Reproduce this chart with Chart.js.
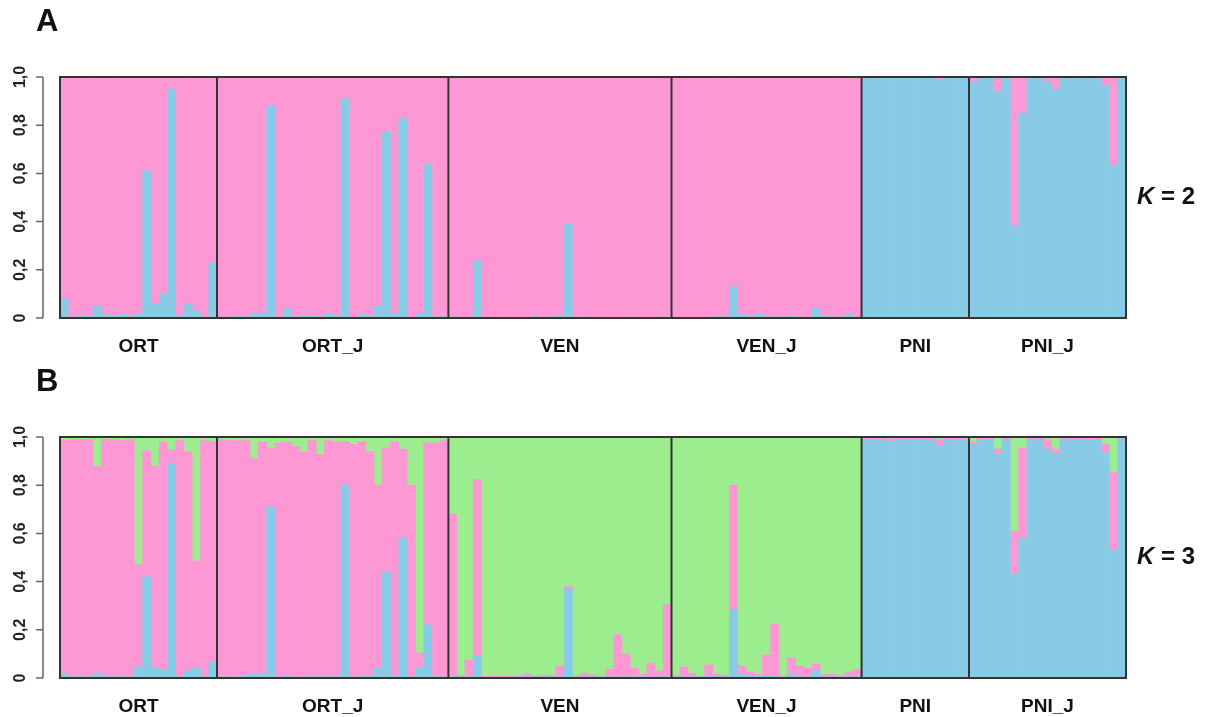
<!DOCTYPE html>
<html>
<head>
<meta charset="utf-8">
<script src="https://cdn.jsdelivr.net/npm/chart.js@4.4.0/dist/chart.umd.min.js"></script>
<style>
  body { margin: 0; background: #fff; }
  #wrap { position: relative; width: 1208px; height: 717px; }
  canvas { position: absolute; left: 0; }
</style>
</head>
<body>
<div id="wrap">
  <canvas id="chartA" width="1208" height="360" style="top:0"></canvas>
  <canvas id="chartB" width="1208" height="357" style="top:360px"></canvas>
</div>
<script>
// populations and how many individuals in each
const pops = ['ORT', 'ORT_J', 'VEN', 'VEN_J', 'PNI', 'PNI_J'];
const popSizes = [19, 28, 27, 23, 13, 19];
const yTicks = [0, 0.2, 0.4, 0.6, 0.8, 1.0];
const yTickLabels = ['0', '0,2', '0,4', '0,6', '0,8', '1,0'];

// K = 2, blue cluster membership (pink is the rest)
const k2Blue = [
  0.08,0,0.01,0.01,0.05,0.015,0.01,0.015,0.005,0.015,0.61,0.06,0.10,0.95,0.01,0.06,0.03,0,0.23, // ORT
  0,0.005,0.01,0.005,0.02,0.02,0.88,0,0.04,0.005,0.01,0.01,0,0.015,0.01,0.91,0,0.015,0.01,0.05,0.77,0.02,0.83,0,0.02,0.64,0.005,0.005, // ORT_J
  0.005,0,0,0.24,0.002,0,0,0,0,0.003,0.005,0.003,0.005,0.007,0.39,0.004,0.003,0,0,0,0.002,0.002,0.003,0,0,0.004,0.004, // VEN
  0,0,0,0,0,0.006,0.006,0.13,0.015,0.005,0.015,0.005,0.005,0.005,0.008,0.004,0,0.04,0.007,0.005,0.005,0.018,0, // VEN_J
  0.997,0.997,0.997,0.995,0.997,0.997,0.997,0.997,0.997,0.99,0.997,0.997,0.997, // PNI
  0.98,1,1,0.94,1,0.38,0.85,1,1,0.98,0.95,1,1,1,1,1,0.965,0.635,1 // PNI_J
];

// K = 3, blue and pink membership (green is the rest)
const k3Blue = [
  0.015,0.005,0.005,0.005,0.02,0.01,0.005,0.005,0.005,0.045,0.42,0.04,0.035,0.89,0.005,0.03,0.04,0.005,0.065,
  0.005,0.005,0.005,0.01,0.015,0.02,0.71,0.005,0.01,0.005,0.005,0.005,0.005,0.01,0.005,0.80,0.005,0.01,0.01,0.04,0.44,0.01,0.58,0.005,0.04,0.22,0.005,0.005,
  0.01,0.005,0.005,0.09,0.003,0.003,0.003,0.003,0.003,0.005,0.005,0.005,0.005,0.005,0.37,0.005,0.005,0.005,0.005,0.005,0.005,0.005,0.005,0.005,0.005,0.005,0.005,
  0.005,0.005,0.005,0.005,0.005,0.01,0.005,0.285,0.015,0.008,0.005,0.008,0.01,0.005,0.015,0.005,0.005,0.03,0.005,0.005,0.005,0.005,0.005,
  0.99,0.99,0.99,0.982,0.99,0.99,0.99,0.99,0.99,0.965,0.99,0.99,0.99,
  0.97,0.99,0.99,0.928,0.99,0.43,0.58,0.99,0.99,0.95,0.93,0.99,0.99,0.99,0.99,0.99,0.935,0.53,0.995
];
const k3Pink = [
  0.971,0.985,0.985,0.985,0.858,0.98,0.985,0.98,0.985,0.425,0.524,0.838,0.945,0.057,0.98,0.91,0.446,0.98,0.915,
  0.985,0.98,0.98,0.975,0.897,0.96,0.244,0.97,0.97,0.957,0.935,0.98,0.923,0.975,0.975,0.18,0.965,0.97,0.93,0.76,0.514,0.97,0.37,0.795,0.064,0.756,0.97,0.98,
  0.67,0.005,0.069,0.734,0.004,0.004,0.003,0.004,0.005,0.013,0.003,0.007,0.007,0.045,0.01,0.005,0.015,0.007,0.003,0.032,0.175,0.095,0.035,0.01,0.057,0.025,0.30,
  0.005,0.04,0.015,0.003,0.049,0.005,0.007,0.515,0.035,0.017,0.01,0.088,0.215,0.005,0.07,0.045,0.035,0.03,0.01,0.01,0.003,0.02,0.03,
  0.005,0.005,0.005,0.01,0.005,0.005,0.005,0.005,0.005,0.025,0.005,0.005,0.005,
  0.01,0.005,0.005,0.022,0.005,0.18,0.375,0.005,0.005,0.04,0.02,0.005,0.005,0.005,0.005,0.005,0.035,0.324,0.002
];

const BLUE = '#89cbe7';
const PINK = '#fd98d5';
const GREEN = '#9ced8e';
const FONT = '"Liberation Sans", Arial, sans-serif';

const labels = k2Blue.map((v, i) => 'ind' + (i + 1));
const k2Pink = k2Blue.map(v => 1 - v);
const k3Green = k3Blue.map((v, i) => Math.max(0, 1 - v - k3Pink[i]));

// frame, group separators, y axis, population names and panel labels
const structurePlugin = {
  id: 'structure',
  afterDatasetsDraw(chart, args, opts) {
    const ctx = chart.ctx;
    const area = chart.chartArea;
    const x = chart.scales.x;
    const y = chart.scales.y;
    ctx.save();

    // group separators
    ctx.strokeStyle = '#333';
    ctx.lineWidth = 2;
    let start = 0;
    const centers = [];
    popSizes.forEach((n, gi) => {
      const end = start + n;
      const left = start === 0 ? area.left : (x.getPixelForValue(start - 1) + x.getPixelForValue(start)) / 2;
      const right = end === labels.length ? area.right : (x.getPixelForValue(end - 1) + x.getPixelForValue(end)) / 2;
      centers.push((left + right) / 2);
      if (end < labels.length) {
        ctx.beginPath();
        ctx.moveTo(right, area.top);
        ctx.lineTo(right, area.bottom);
        ctx.stroke();
      }
      start = end;
    });
    ctx.strokeRect(area.left, area.top, area.right - area.left, area.bottom - area.top);

    // y axis off to the left, R style
    const axX = 43;
    ctx.strokeStyle = '#666';
    ctx.lineWidth = 1.5;
    ctx.beginPath();
    ctx.moveTo(axX, y.getPixelForValue(0));
    ctx.lineTo(axX, y.getPixelForValue(1));
    yTicks.forEach(t => {
      const py = y.getPixelForValue(t);
      ctx.moveTo(axX, py);
      ctx.lineTo(axX - 7, py);
    });
    ctx.stroke();
    ctx.fillStyle = '#222';
    ctx.font = 'bold 16px ' + FONT;
    ctx.textAlign = 'center';
    ctx.textBaseline = 'middle';
    yTicks.forEach((t, i) => {
      ctx.save();
      ctx.translate(21, y.getPixelForValue(t));
      ctx.rotate(-Math.PI / 2);
      ctx.fillText(yTickLabels[i], 0, 0);
      ctx.restore();
    });

    // population names
    ctx.fillStyle = '#111';
    ctx.font = 'bold 19px ' + FONT;
    pops.forEach((p, i) => ctx.fillText(p, centers[i], opts.nameY));

    // panel letter
    ctx.textAlign = 'left';
    ctx.font = 'bold 31px ' + FONT;
    ctx.fillText(opts.letter, 36, area.top - 55);

    // K = n
    const midY = (area.top + area.bottom) / 2;
    ctx.font = 'italic bold 24px ' + FONT;
    ctx.fillText('K', 1137, midY);
    const kw = ctx.measureText('K').width;
    ctx.font = 'bold 24px ' + FONT;
    ctx.fillText(' = ' + opts.k, 1137 + kw, midY);
    ctx.restore();
  }
};

function makeChart(id, datasets, opts, padBottom) {
  return new Chart(document.getElementById(id), {
    type: 'bar',
    data: { labels: labels, datasets: datasets },
    options: {
      responsive: false,
      animation: false,
      layout: { padding: { left: 60, right: 82, top: 77, bottom: padBottom } },
      datasets: { bar: { barPercentage: 1, categoryPercentage: 1, borderWidth: 0 } },
      scales: {
        x: { display: false, stacked: true },
        y: { display: false, stacked: true, min: 0, max: 1 }
      },
      plugins: {
        legend: { display: false },
        tooltip: { enabled: false },
        structure: opts
      }
    },
    plugins: [structurePlugin]
  });
}

makeChart('chartA', [
  { label: 'cluster 1', data: k2Blue, backgroundColor: BLUE },
  { label: 'cluster 2', data: k2Pink, backgroundColor: PINK }
], { letter: 'A', k: 2, nameY: 347 }, 42);

makeChart('chartB', [
  { label: 'cluster 1', data: k3Blue, backgroundColor: BLUE },
  { label: 'cluster 2', data: k3Pink, backgroundColor: PINK },
  { label: 'cluster 3', data: k3Green, backgroundColor: GREEN }
], { letter: 'B', k: 3, nameY: 347 }, 39);
</script>
</body>
</html>
